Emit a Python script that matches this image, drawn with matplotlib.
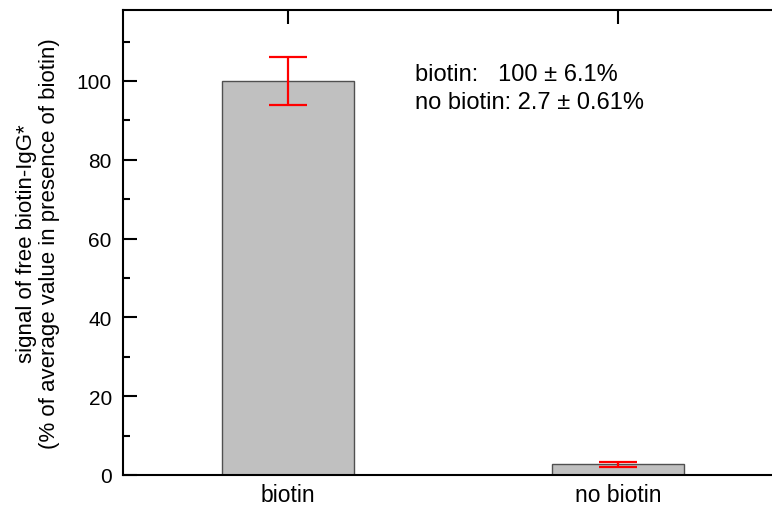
import numpy as np
import matplotlib
matplotlib.use("Agg")
import matplotlib.pyplot as plt
from matplotlib.ticker import MultipleLocator

plt.rcParams['font.family'] = ['Liberation Sans', 'DejaVu Sans']

categories = ['biotin', 'no biotin']
signal = [100.0, 2.7]
err = [6.1, 0.61]
notes = ['biotin:   100 \u00b1 6.1%', 'no biotin: 2.7 \u00b1 0.61%']

fig = plt.figure(figsize=(7.72, 5.06), dpi=100)
# right edge of the axes is cut off by the figure, as in the original
ax = fig.add_axes([0.1593, 0.0593, 0.855, 0.919])

x = np.arange(1, len(categories) + 1)
ax.bar(x, signal, width=0.4, color='#c0c0c0', edgecolor='#505050', linewidth=1.0, zorder=2)
ax.errorbar(x, signal, yerr=err, fmt='none', ecolor='red', elinewidth=1.6,
            capsize=13.5, capthick=1.6, zorder=3)

ax.set_xlim(0.5, 2.5)
ax.set_ylim(0, 118)
ax.set_xticks(x)
ax.set_xticklabels(categories)
ax.yaxis.set_major_locator(MultipleLocator(20))
ax.yaxis.set_minor_locator(MultipleLocator(10))

for s in ax.spines.values():
    s.set_linewidth(1.5)
    s.set_zorder(4)

ax.tick_params(axis='y', which='major', direction='in', length=10, width=1.5, labelsize=15, pad=8)
ax.tick_params(axis='y', which='minor', direction='in', length=5, width=1.5)
ax.tick_params(axis='x', which='major', direction='in', length=10, width=1.5, labelsize=16.5,
               top=True, pad=6)
for t in ax.xaxis.get_major_ticks():
    t.tick1line.set_zorder(5)

ax.set_ylabel('signal of free biotin-IgG*\n(% of average value in presence of biotin)',
              fontsize=16, labelpad=12, linespacing=1.15)

ax.text(0.442, 0.862, notes[0], transform=ax.transAxes, fontsize=17, va='center')
ax.text(0.442, 0.802, notes[1], transform=ax.transAxes, fontsize=17, va='center')

fig.savefig('out.png', dpi=100)
